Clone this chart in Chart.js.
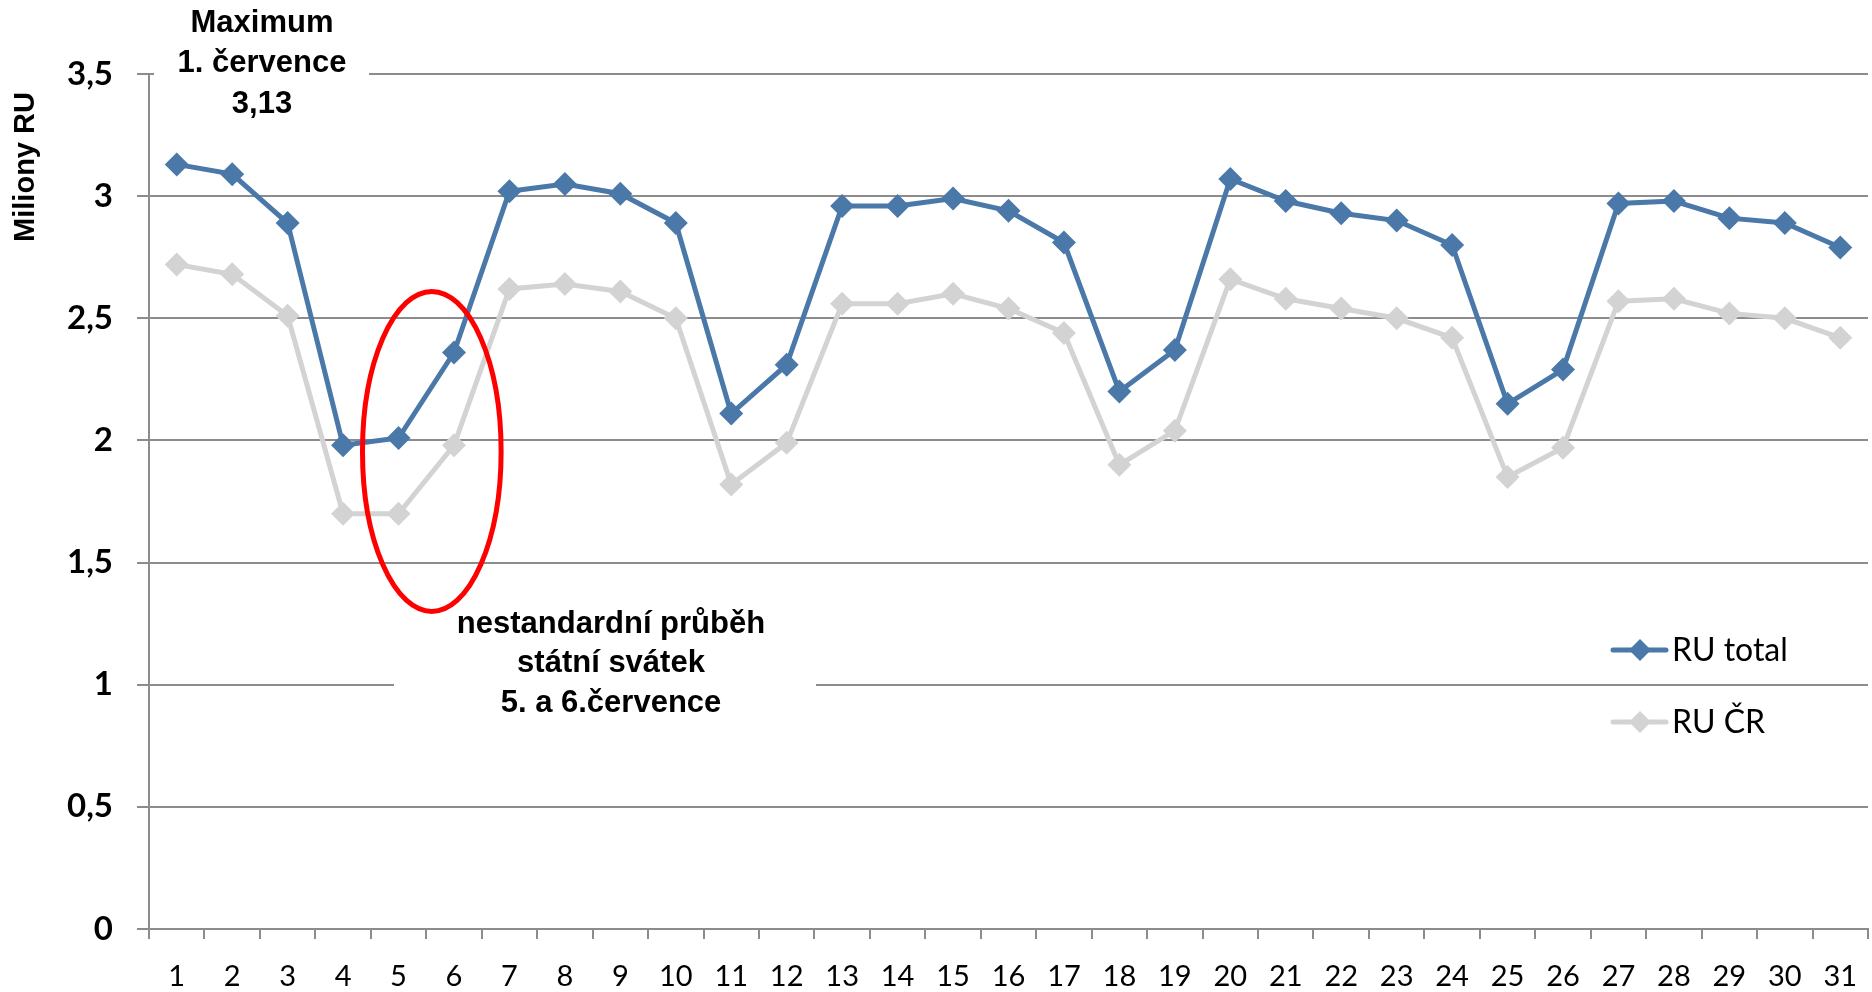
<!DOCTYPE html>
<html>
<head>
<meta charset="utf-8">
<script src="https://cdn.jsdelivr.net/npm/chart.js@4/dist/chart.umd.min.js"></script>
<style>
  html, body { margin: 0; padding: 0; background: #fff; overflow: hidden; }
  canvas { display: block; }
</style>
</head>
<body>
<canvas id="myChart" width="1872" height="992"></canvas>
<script>
  // days of July
  const days = ["1","2","3","4","5","6","7","8","9","10","11","12","13","14","15","16",
    "17","18","19","20","21","22","23","24","25","26","27","28","29","30","31"];
  // millions of RU
  const ruTotal = [3.13, 3.09, 2.89, 1.98, 2.01, 2.36, 3.02, 3.05, 3.01, 2.89, 2.11, 2.31, 2.96, 2.96, 2.99, 2.94,
    2.81, 2.20, 2.37, 3.07, 2.98, 2.93, 2.90, 2.80, 2.15, 2.29, 2.97, 2.98, 2.91, 2.89, 2.79];
  const ruCR = [2.72, 2.68, 2.51, 1.70, 1.70, 1.98, 2.62, 2.64, 2.61, 2.50, 1.82, 1.99, 2.56, 2.56, 2.60, 2.54,
    2.44, 1.90, 2.04, 2.66, 2.58, 2.54, 2.50, 2.42, 1.85, 1.97, 2.57, 2.58, 2.52, 2.50, 2.42];
  const seriesNames = ["RU total", "RU ČR"];
  const yTitle = "Miliony RU";
  const maxNote = ["Maximum", "1. července", "3,13"];
  const holidayNote = ["nestandardní průběh", "státní svátek", "5. a 6.července"];

  const blue = "#4a78a8";
  const grey = "#d3d3d3";
  const gridCol = "#8c8c8c";

  // white boxes behind the notes, ellipse, legend, axis title
  const notes = {
    id: "notes",
    beforeDatasetsDraw(chart) {
      const ctx = chart.ctx;
      ctx.save();
      ctx.fillStyle = "#fff";
      ctx.fillRect(154, 0, 215, 125);
      ctx.fillRect(394, 600, 422, 120);
      ctx.restore();
    },
    afterDatasetsDraw(chart) {
      const ctx = chart.ctx;
      const x = chart.scales.x, y = chart.scales.y;
      ctx.save();

      // red ellipse round days 5 and 6
      const cx = x.getPixelForValue(4.6), cy = y.getPixelForValue(1.955);
      const rx = x.getPixelForValue(4.6 + 1.25) - cx;
      const ry = cy - y.getPixelForValue(1.955 + 0.655);
      ctx.beginPath();
      ctx.ellipse(cx, cy, rx, ry, 0, 0, Math.PI * 2);
      ctx.strokeStyle = "#ff0000";
      ctx.lineWidth = 5;
      ctx.stroke();

      ctx.fillStyle = "#000";
      ctx.textAlign = "center";
      ctx.textBaseline = "middle";
      ctx.font = "bold 31px 'Liberation Sans', Arial";
      maxNote.forEach((t, i) => ctx.fillText(t, 262, 23 + i * 40.5));
      holidayNote.forEach((t, i) => ctx.fillText(t, 611, 624 + i * 39.5));

      // y title
      ctx.save();
      ctx.translate(26, 167);
      ctx.rotate(-Math.PI / 2);
      ctx.font = "bold 29px 'Liberation Sans', Arial";
      ctx.fillText(yTitle, 0, 0);
      ctx.restore();

      // legend
      ctx.textAlign = "left";
      ctx.font = "32px Lato";
      chart.data.datasets.forEach((ds, i) => {
        const ly = 650 + i * 72;
        ctx.strokeStyle = ds.borderColor;
        ctx.lineWidth = 5;
        ctx.lineCap = "round";
        ctx.beginPath();
        ctx.moveTo(1613, ly);
        ctx.lineTo(1666, ly);
        ctx.stroke();
        ctx.fillStyle = ds.backgroundColor;
        ctx.beginPath();
        ctx.moveTo(1640, ly - 11);
        ctx.lineTo(1651, ly);
        ctx.lineTo(1640, ly + 11);
        ctx.lineTo(1629, ly);
        ctx.closePath();
        ctx.fill();
        ctx.fillStyle = "#000";
        ctx.fillText(ds.label, 1672, ly + 1);
      });
      ctx.restore();
    }
  };

  const config = {
    type: "line",
    data: {
      labels: days,
      datasets: [
        {
          label: seriesNames[0],
          data: ruTotal,
          borderColor: blue,
          backgroundColor: blue,
          borderWidth: 5,
          pointStyle: "rectRot",
          pointRadius: 12,
          pointBorderWidth: 0,
          tension: 0
        },
        {
          label: seriesNames[1],
          data: ruCR,
          borderColor: grey,
          backgroundColor: grey,
          borderWidth: 5,
          pointStyle: "rectRot",
          pointRadius: 12,
          pointBorderWidth: 0,
          tension: 0
        }
      ]
    },
    options: {
      responsive: false,
      animation: false,
      devicePixelRatio: 1,
      layout: { autoPadding: false, padding: { top: 74, right: 4, left: 0, bottom: 0 } },
      plugins: {
        legend: { display: false },
        tooltip: { enabled: false }
      },
      scales: {
        x: {
          offset: true,
          grid: { offset: true, drawOnChartArea: false, drawTicks: true, tickLength: 10, color: gridCol, lineWidth: 2 },
          border: { display: true, color: gridCol, width: 2 },
          ticks: { color: "#000", font: { family: "Lato", size: 29 }, padding: 20, maxRotation: 0, autoSkip: false },
          afterFit: s => { s.height = 63; s.paddingLeft = 0; s.paddingRight = 0; }
        },
        y: {
          min: 0,
          max: 3.5,
          grid: { color: gridCol, lineWidth: 2, drawTicks: true, tickLength: 12 },
          border: { display: true, color: gridCol, width: 2 },
          ticks: {
            stepSize: 0.5,
            color: "#000",
            padding: 24,
            font: { family: "Lato", size: 33, weight: "bold" },
            callback: v => String(v).replace(".", ",")
          },
          afterFit: s => { s.width = 149; s.paddingTop = 0; s.paddingBottom = 0; }
        }
      }
    },
    plugins: [notes]
  };

  var myChart = new Chart(document.getElementById("myChart"), config);
</script>
</body>
</html>
